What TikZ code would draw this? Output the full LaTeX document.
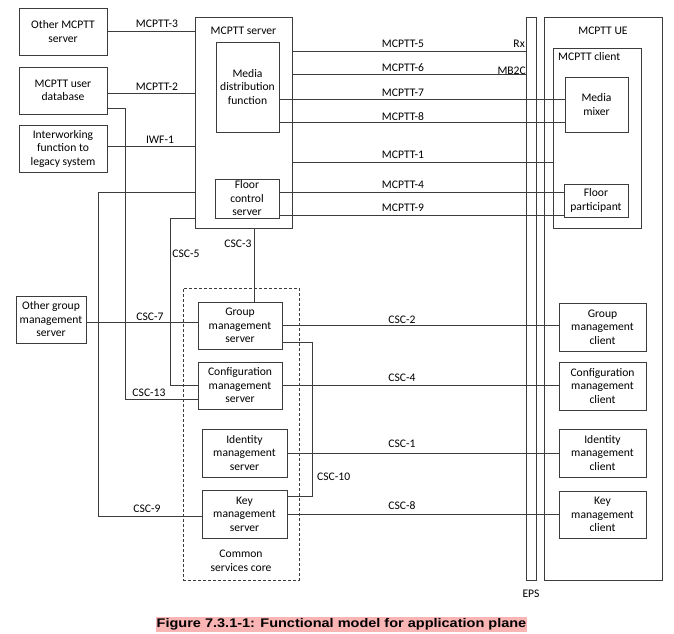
\documentclass[tikz,border=0pt]{standalone}
\usepackage{fontspec}
\setmainfont{Carlito}
\newfontfamily\capfont[FakeStretch=1.16]{Liberation Sans}
\usepackage{xcolor}
\usepackage{tikz}
\usetikzlibrary{calc,positioning}
\definecolor{mcLine}{HTML}{3C3C3C}
\definecolor{mcPink}{HTML}{F9B4B4}

\begin{document}
\begin{tikzpicture}[x=1pt, y=-1pt, font=\fontsize{11.6}{13.5}\selectfont,
  box/.style={draw=mcLine, line width=0.8pt, align=center, inner sep=0pt},
  frame/.style={draw=mcLine, line width=0.8pt, inner sep=0pt},
  link/.style={draw=mcLine, line width=0.8pt},
  lbl/.style={inner sep=0pt}]
  \useasboundingbox (0,0) rectangle (674,633);

  % outer functional entities
  \node[box, minimum width=88pt, minimum height=47pt] (omcptt) at (63,31.5) {Other MCPTT\\server};
  \node[box, minimum width=88pt, minimum height=47pt] (udb) at (63,90.5) {MCPTT user\\database};
  \node[box, minimum width=88pt, minimum height=47pt] (iwf) at (63,148.5) {Interworking\\function to\\legacy system};
  \node[box, minimum width=70pt, minimum height=47pt] (ogms) at (51,319.5) {Other group\\management\\server};

  % MCPTT server
  \node[frame, minimum width=97pt, minimum height=211pt] (srv) at (243.5,122.5) {};
  \node[lbl] (srvt) at (243.5,31) {MCPTT server};
  \node[box, minimum width=63pt, minimum height=90pt] (mdf) at (247.5,87) {Media\\distribution\\function};
  \node[box, minimum width=64pt, minimum height=39pt] (fcs) at (247,198.5) {Floor\\control\\server};

  % common services core
  \node[frame, dash pattern=on 3pt off 2pt, minimum width=116pt, minimum height=292pt] (csc) at (241,434) {};
  \node[box, minimum width=84pt, minimum height=47pt] (gms) at (240,325.5) {Group\\management\\server};
  \node[box, minimum width=84pt, minimum height=47pt] (cms) at (240,385.5) {Configuration\\management\\server};
  \node[box, minimum width=85pt, minimum height=48pt] (ims) at (244.5,453) {Identity\\management\\server};
  \node[box, minimum width=85pt, minimum height=48pt] (kms) at (244.5,514) {Key\\management\\server};
  \node[lbl, align=center] (csct) at (241,561) {Common\\services core};

  % EPS and UE
  \node[frame, minimum width=10pt, minimum height=563pt] (eps) at (531,298.5) {};
  \node[lbl] (epst) at (531,594) {EPS};
  \node[frame, minimum width=118pt, minimum height=563pt] (ue) at (603,298.5) {};
  \node[lbl] (uet) at (603,31) {MCPTT UE};
  \node[frame, minimum width=88pt, minimum height=180pt] (cli) at (597,138) {};
  \node[lbl, anchor=west] (clit) at (558,57) {MCPTT client};
  \node[box, minimum width=63pt, minimum height=55pt] (mix) at (596.5,104.5) {Media\\mixer};
  \node[box, minimum width=64pt, minimum height=33pt] (fp) at (596,200.5) {Floor\\participant};
  \node[box, minimum width=87pt, minimum height=48pt] (gmc) at (602.5,327) {Group\\management\\client};
  \node[box, minimum width=87pt, minimum height=48pt] (cmc) at (602.5,386) {Configuration\\management\\client};
  \node[box, minimum width=87pt, minimum height=48pt] (imc) at (602.5,453) {Identity\\management\\client};
  \node[box, minimum width=87pt, minimum height=47pt] (kmc) at (602.5,514.5) {Key\\management\\client};

  % left side interfaces
  \draw[link] (omcptt.east) -- (omcptt.east -| srv.west);
  \draw[link] ([yshift=-2.5pt]udb.east) coordinate (p2) -- (p2 -| srv.west);
  \draw[link] ([yshift=2.5pt]iwf.east) coordinate (p3) -- (p3 -| srv.west);
  \draw[link] ([yshift=6pt]udb.south east) -- ++(18,0) |- ([yshift=-13.5pt]cms.west);
  \draw[link] ([yshift=36pt]srv.south west) -- ++(-96,0) |- ([yshift=-2pt]kms.west);
  \draw[link] ([yshift=10pt]srv.south west) -- ++(-24,0) |- (cms.west);
  \draw[link] ([xshift=14pt]gms.north) coordinate (p4) -- (p4 |- srv.south);
  \draw[link] ([yshift=-2.5pt]ogms.east) coordinate (p5) -- (p5 -| gms.west);
  \draw[link] ([yshift=-16.5pt]gms.east) -- ++(30,0) |- ([yshift=18pt]kms.east);

  % common services to clients
  \foreach \s/\c in {gms/gmc, cms/cmc, ims/imc, kms/kmc}
    \draw[link] (\s.east) -- (\s.east -| \c.west);

  % MCPTT interfaces
  \draw[link] ([yshift=-35pt]srv.north east) coordinate (q5) -- (q5 -| eps.west);
  \draw[link] ([yshift=-58pt]srv.north east) coordinate (q6) -- (q6 -| eps.west);
  \draw[link] ([yshift=-12pt]mdf.east) coordinate (q7) -- (q7 -| mix.west);
  \draw[link] ([yshift=10pt]mdf.south east) coordinate (q8) -- (q8 -| mix.west);
  \draw[link] ([yshift=-39.5pt]srv.east) coordinate (q1) -- (q1 -| cli.west);
  \draw[link] ([yshift=6.5pt]fcs.east) coordinate (q4) -- (q4 -| fp.west);
  \draw[link] ([yshift=-16.5pt]fcs.east) coordinate (q9) -- (q9 -| fp.west);

  % labels
  \foreach \n/\y in {5/44, 6/68, 7/93, 8/117, 1/155, 4/185, 9/208}
    \node[lbl] (lm\n) at (403,\y) {MCPTT-\n};
  \foreach \n/\y in {2/320, 4/378, 1/444, 8/506}
    \node[lbl] (lc\n) at (402,\y) {CSC-\n};
  \node[lbl] (lm3) at (157,24) {MCPTT-3};
  \node[lbl] (lm2) at (157,87) {MCPTT-2};
  \node[lbl] (liwf) at (160,140) {IWF-1};
  \node[lbl] (lc13) at (149,393) {CSC-13};
  \node[lbl] (lc9) at (147,509) {CSC-9};
  \node[lbl] (lc5) at (186,254) {CSC-5};
  \node[lbl] (lc3) at (238,244) {CSC-3};
  \node[lbl] (lc7) at (150,317) {CSC-7};
  \node[lbl, anchor=west] (lc10) at (317,477) {CSC-10};
  \node[lbl, anchor=east] (lrx) at (525,44) {Rx};
  \node[lbl, anchor=east] (lmb) at (526,71) {MB2C};

  % caption
  \node[fill=mcPink, inner xsep=1pt, inner ysep=1.5pt,
        font=\capfont\bfseries\fontsize{12.5}{14}\selectfont] (cap) at (341.5,624.5)
        {Figure 7.3.1-1: Functional model for application plane};
\end{tikzpicture}
\end{document}
